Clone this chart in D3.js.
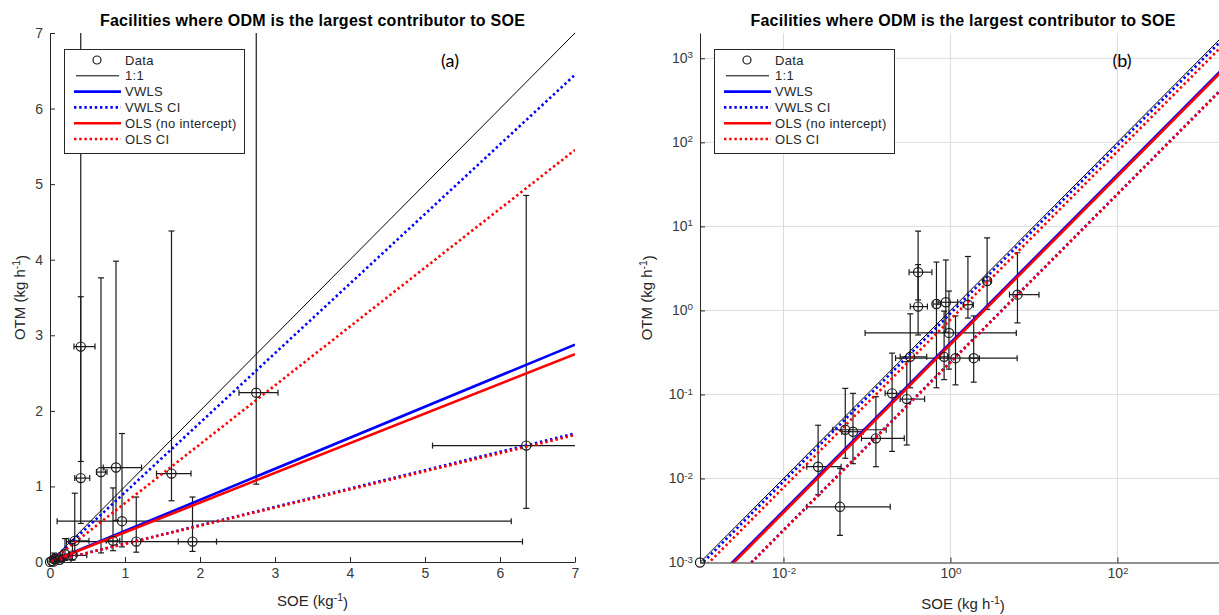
<!DOCTYPE html>
<html><head><meta charset="utf-8">
<script src="https://cdn.jsdelivr.net/npm/d3@7"></script>
<style>
body{margin:0;background:#fff;}
svg{display:block;font-family:"Liberation Sans",Arial,Helvetica,sans-serif;}
</style></head><body>
<svg id="chart" width="1219" height="615"></svg>
<script>
// ---- data ----
const soe     = [0.001,0.0475,0.026,0.055,0.068,0.128,0.20,0.30,0.33,0.84,1.15,1.90,0.96,0.41,0.41,0.68,0.88,1.62,2.75,6.35];
const soeLow  = [0.001,0.019,0.019,0.039,0.050,0.086,0.165,0.25,0.25,0.75,0.22,1.71,0.095,0.33,0.32,0.62,0.71,1.42,2.52,5.10];
const soeHigh = [0.001,0.19,0.049,0.17,0.09,0.28,0.25,0.49,0.52,0.93,6.3,2.22,6.15,0.53,0.60,0.76,1.22,1.88,3.04,11.5];
const otm     = [0.001,0.0046,0.0138,0.038,0.036,0.030,0.103,0.088,0.28,0.28,0.27,0.27,0.54,1.11,2.85,1.19,1.25,1.17,2.24,1.54];
const otmLow  = [0.001,0.0021,0.0064,0.0174,0.015,0.0138,0.021,0.025,0.12,0.15,0.13,0.14,0.20,0.51,1.33,0.12,0.55,0.81,1.03,0.71];
const otmHigh = [0.001,0.0132,0.043,0.118,0.103,0.094,0.31,0.245,0.91,0.98,0.86,0.86,1.70,3.51,8.8,3.76,3.98,4.38,7.3,4.85];

const fitKeys   = ["one","vwls","vwlsCI","vwlsCI","ols","olsCI","olsCI"];
const fitSlopes = [1, 0.411, 0.921, 0.243, 0.393, 0.779, 0.240];

const legendLabels = ["Data","1:1","VWLS","VWLS CI","OLS (no intercept)","OLS CI"];
const legendKeys   = ["data","one","vwls","vwlsCI","ols","olsCI"];

const linTicks = [0,1,2,3,4,5,6,7];
const logYExp  = [-3,-2,-1,0,1,2,3];
const logXExp  = [-2,0,2];

const titleText = "Facilities where ODM is the largest contributor to SOE";

// ---- styles ----
const styles = {
  one:    {stroke:"#000", width:1, dash:null},
  vwls:   {stroke:"#0000ff", width:2.6, dash:null},
  vwlsCI: {stroke:"#0000ff", width:2.6, dash:"2.4,2.8"},
  ols:    {stroke:"#ff0000", width:2.6, dash:null},
  olsCI:  {stroke:"#ff0000", width:2.6, dash:"2.4,2.8"}
};
const axisColor = "#262626";
const tickTextColor = "#3a3a3a";

const svg = d3.select("#chart");

function addSup(sel, base, sup, after){
  sel.text(null);
  sel.append("tspan").text(base);
  sel.append("tspan").attr("dy","-0.5em").attr("font-size","0.7em").text(sup);
  if(after) sel.append("tspan").attr("dy","0.5em").text(after);
}

function drawPanel(o){
  const xs=o.xs, ys=o.ys;
  const [x0,x1]=xs.range(); const [yb,yt]=ys.range();
  const clipId="clip"+o.id;
  svg.append("clipPath").attr("id",clipId).append("rect")
    .attr("x",x0).attr("y",yt).attr("width",x1-x0).attr("height",yb-yt);

  // grid
  if(o.log){
    const gg=svg.append("g").attr("stroke","#dcdcdc").attr("stroke-width",1);
    logYExp.filter(e=>e>-3).forEach(e=>{
      gg.append("line").attr("x1",x0).attr("x2",x1).attr("y1",ys(Math.pow(10,e))).attr("y2",ys(Math.pow(10,e)));
    });
    logXExp.forEach(e=>{
      gg.append("line").attr("y1",yb).attr("y2",yt).attr("x1",xs(Math.pow(10,e))).attr("x2",xs(Math.pow(10,e)));
    });
  }

  const gc=svg.append("g").attr("clip-path",`url(#${clipId})`);
  // error bars
  const eb=gc.append("g").attr("stroke","#1a1a1a").attr("stroke-width",1.2).attr("fill","none");
  const cap=3;
  soe.forEach((sx,i)=>{
    if(soeLow[i]===soeHigh[i] && otmLow[i]===otmHigh[i]) return;
    const px=xs(sx), py=ys(otm[i]);
    const yl=ys(otmLow[i]), yh=ys(otmHigh[i]);
    const xl=xs(soeLow[i]), xh=xs(soeHigh[i]);
    eb.append("line").attr("x1",px).attr("x2",px).attr("y1",yl).attr("y2",yh);
    eb.append("line").attr("x1",px-cap).attr("x2",px+cap).attr("y1",yl).attr("y2",yl);
    eb.append("line").attr("x1",px-cap).attr("x2",px+cap).attr("y1",yh).attr("y2",yh);
    eb.append("line").attr("x1",xl).attr("x2",xh).attr("y1",py).attr("y2",py);
    eb.append("line").attr("x1",xl).attr("x2",xl).attr("y1",py-cap).attr("y2",py+cap);
    eb.append("line").attr("x1",xh).attr("x2",xh).attr("y1",py-cap).attr("y2",py+cap);
  });
  // markers (not clipped)
  svg.append("g").selectAll("circle").data(soe).join("circle")
    .attr("cx",d=>xs(d)).attr("cy",(d,i)=>ys(otm[i])).attr("r",4.6)
    .attr("fill","none").attr("stroke","#1a1a1a").attr("stroke-width",1.2);

  // fit lines
  const dom=xs.domain();
  const xa = o.log ? dom[0] : 0, xb = dom[1];
  fitKeys.forEach((k,i)=>{
    const s=styles[k], m=fitSlopes[i];
    const line=d3.line().x(d=>xs(d)).y(d=>ys(m*d));
    gc.append("path").attr("d",line([xa,xb])).attr("fill","none")
      .attr("stroke",s.stroke).attr("stroke-width",s.width)
      .attr("stroke-dasharray",s.dash);
  });

  // axes
  const ax=d3.axisBottom(xs).tickSizeInner(-5).tickSizeOuter(0).tickPadding(6);
  const ay=d3.axisLeft(ys).tickSizeInner(-5).tickSizeOuter(0).tickPadding(7);
  if(o.log){
    ax.tickValues(logXExp.map(e=>Math.pow(10,e))).tickFormat(d=>String(Math.round(Math.log10(d))));
    ay.tickValues(logYExp.map(e=>Math.pow(10,e))).tickFormat(d=>String(Math.round(Math.log10(d))));
  } else {
    ax.tickValues(linTicks).tickFormat(d3.format("d"));
    ay.tickValues(linTicks).tickFormat(d3.format("d"));
  }
  const gx=svg.append("g").attr("transform",`translate(0,${yb})`).call(ax);
  const gy=svg.append("g").attr("transform",`translate(${x0},0)`).call(ay);
  [gx,gy].forEach(g=>{
    g.selectAll("path,line").attr("stroke",axisColor).attr("stroke-width",1);
    g.selectAll("text").attr("font-family","Liberation Sans, Arial, sans-serif").attr("font-size",14).attr("fill",tickTextColor);
  });
  if(o.log){
    gx.selectAll(".tick text").each(function(){ const t=d3.select(this); addSup(t,"10",t.text()); });
    gy.selectAll(".tick text").each(function(){ const t=d3.select(this); addSup(t,"10",t.text()); });
  }

  // axis labels
  const xl=svg.append("text").attr("x",(x0+x1)/2).attr("y",o.xLabelY).attr("text-anchor","middle")
    .attr("font-size",15).attr("fill","#262626");
  addSup(xl,o.xLabel[0],o.xLabel[1],o.xLabel[2]);
  const yl=svg.append("text").attr("transform",`translate(${o.yLabelX},${(yb+yt)/2}) rotate(-90)`)
    .attr("text-anchor","middle").attr("font-size",15).attr("fill","#262626");
  addSup(yl,"OTM (kg h","-1",")");

  // title
  svg.append("text").attr("x",(x0+x1)/2).attr("y",26).attr("text-anchor","middle")
    .attr("font-size",16).attr("font-weight","bold").attr("letter-spacing",0.25).attr("fill","#000").text(titleText);

  // panel tag
  svg.append("text").attr("x",o.tagX).attr("y",67).attr("text-anchor","middle")
    .attr("font-family","Lato, 'Open Sans', sans-serif").attr("font-size",18).attr("fill","#000").text(o.tag);

  // legend
  const lx=o.legendX, ly=49;
  const lg=svg.append("g");
  lg.append("rect").attr("x",lx+0.5).attr("y",ly+0.5).attr("width",180).attr("height",104)
    .attr("fill","#fff").attr("stroke",axisColor).attr("stroke-width",1);
  legendLabels.forEach((lab,i)=>{
    const yy=ly+11+i*15.8;
    const k=legendKeys[i];
    if(k==="data"){
      lg.append("circle").attr("cx",lx+33).attr("cy",yy).attr("r",4).attr("fill","none")
        .attr("stroke","#1a1a1a").attr("stroke-width",1.2);
    } else {
      const s=styles[k];
      const a = k==="one" ? lx+12 : lx+10, b = k==="one" ? lx+55 : lx+57;
      lg.append("line").attr("x1",a).attr("x2",b).attr("y1",yy).attr("y2",yy)
        .attr("stroke",s.stroke).attr("stroke-width",s.width).attr("stroke-dasharray",s.dash);
    }
    lg.append("text").attr("x",lx+61).attr("y",yy).attr("dy","0.36em").attr("font-size",13)
      .attr("letter-spacing",0.3).attr("fill","#262626").text(lab);
  });
}

drawPanel({
  id:"a", log:false,
  xs:d3.scaleLinear([0,7],[50,575]),
  ys:d3.scaleLinear([0,7],[562,33]),
  xLabel:["SOE (kg","-1",")"], xLabelY:606, yLabelX:25,
  tag:"(a)", tagX:450, legendX:64
});
drawPanel({
  id:"b", log:true,
  xs:d3.scaleLog([1e-3,2e3],[700,1226]),
  ys:d3.scaleLog([1e-3,2e3],[562.5,33]),
  xLabel:["SOE (kg h","-1",")"], xLabelY:609, yLabelX:652,
  tag:"(b)", tagX:1122, legendX:714
});
</script>
</body></html>
